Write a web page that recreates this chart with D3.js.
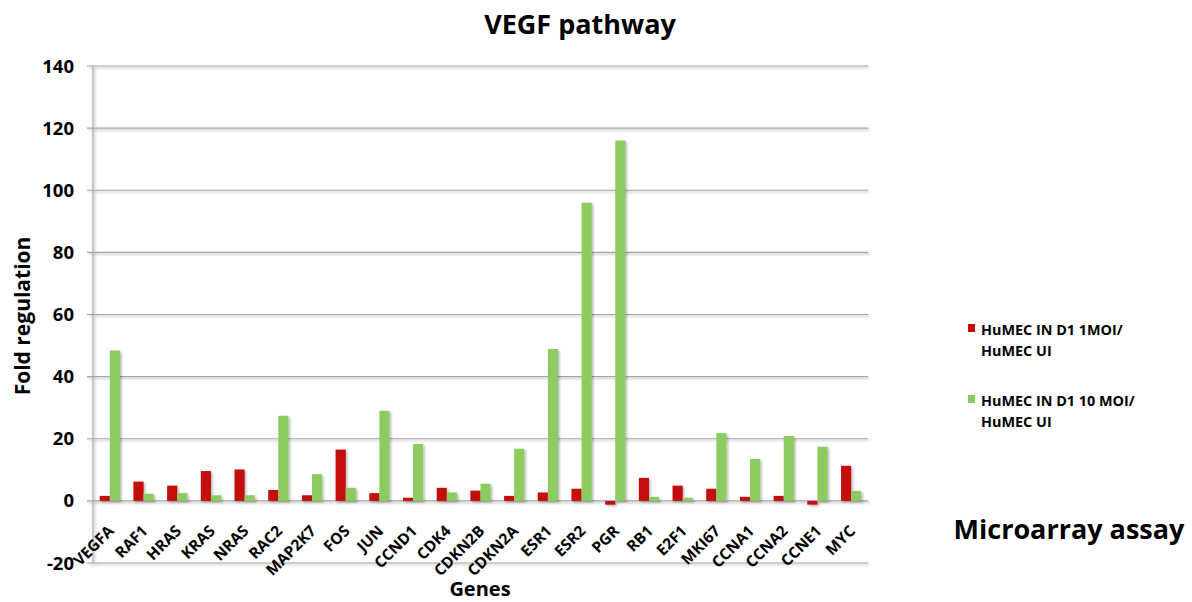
<!DOCTYPE html>
<html><head><meta charset="utf-8">
<script src="https://cdn.jsdelivr.net/npm/d3@7"></script>
<style>body{margin:0;background:#fff}svg{display:block}text{font-family:"Open Sans",Lato,sans-serif;font-weight:bold;fill:#000}</style>
</head><body>
<svg id="c" width="1192" height="602"></svg>
<script>
const genes = ["VEGFA","RAF1","HRAS","KRAS","NRAS","RAC2","MAP2K7","FOS","JUN","CCND1","CDK4","CDKN2B","CDKN2A","ESR1","ESR2","PGR","RB1","E2F1","MKI67","CCNA1","CCNA2","CCNE1","MYC"];
const moi1 = [1.6,6.2,4.9,9.6,10.1,3.5,1.8,16.5,2.5,1.0,4.2,3.3,1.6,2.7,3.9,-1.2,7.4,4.9,3.9,1.3,1.6,-1.2,11.3];
const moi10 = [48.4,2.3,2.5,1.8,1.8,27.4,8.6,4.2,29.0,18.3,2.7,5.5,16.8,48.9,96.0,116.0,1.3,1.0,21.8,13.5,20.9,17.4,3.2];
const seriesNames = ["HuMEC IN D1 1MOI/|HuMEC UI","HuMEC IN D1 10 MOI/|HuMEC UI"];
const colors = ["#c4090c","#8ccb5e"];
const yTicks = [-20,0,20,40,60,80,100,120,140];

const svg = d3.select("#c");
const L=93,R=868,T=66,B=563;
const y = d3.scaleLinear().domain([-20,140]).range([B,T]);
const x = d3.scaleBand().domain(genes).range([L,R]).paddingInner(0.4).paddingOuter(0.2);
const xs = d3.scaleBand().domain([0,1]).range([0,x.bandwidth()]);

const defs = svg.append("defs");
const f = defs.append("filter").attr("id","sh").attr("x","-30%").attr("y","-10%").attr("width","160%").attr("height","130%");
f.append("feDropShadow").attr("dx",1.5).attr("dy",1.5).attr("stdDeviation",1.2).attr("flood-color","#000").attr("flood-opacity",0.3);

// gridlines
const grid = svg.append("g").attr("filter","url(#sh)");
grid.selectAll("line").data(yTicks).join("line")
  .attr("x1",L-6).attr("x2",R).attr("y1",d=>y(d)).attr("y2",d=>y(d))
  .attr("stroke","#a6a6a6").attr("stroke-width",1.2);
grid.append("line").attr("x1",L).attr("x2",L).attr("y1",T).attr("y2",B).attr("stroke","#a6a6a6").attr("stroke-width",1.2);

// y labels
svg.append("g").selectAll("text").data(yTicks).join("text")
  .attr("x",74).attr("y",d=>y(d)+6.5).attr("text-anchor","end").attr("font-size",18.5).text(d=>d);

// bars
const bars = svg.append("g").attr("filter","url(#sh)");
[moi1,moi10].forEach((vals,si)=>{
  bars.append("g").selectAll("rect").data(genes).join("rect")
    .attr("x",(g)=>x(g)+xs(si)).attr("width",xs.bandwidth())
    .attr("y",(g,i)=>y(Math.max(0,vals[i]))).attr("height",(g,i)=>Math.abs(y(vals[i])-y(0)))
    .attr("fill",colors[si]);
});

// x labels
svg.append("g").selectAll("text").data(genes).join("text")
  .attr("transform",g=>`translate(${x(g)+x.bandwidth()/2+5},${532}) rotate(-45)`)
  .attr("text-anchor","end").attr("font-size",15.5).text(g=>g);

// titles
svg.append("text").attr("x",580).attr("y",34).attr("text-anchor","middle").attr("font-size",27).text("VEGF pathway");
svg.append("text").attr("transform","translate(30,316) rotate(-90)").attr("text-anchor","middle").attr("font-size",21).text("Fold regulation");
svg.append("text").attr("x",480).attr("y",596).attr("text-anchor","middle").attr("font-size",20).text("Genes");
svg.append("text").attr("x",1069).attr("y",539).attr("text-anchor","middle").attr("font-size",27).text("Microarray assay");

// legend
const lg = svg.append("g");
const ly = [335,406];
seriesNames.forEach((s,i)=>{
  lg.append("rect").attr("x",968).attr("y",ly[i]-11).attr("width",7).attr("height",8).attr("fill",colors[i]);
  s.split("|").forEach((t,j)=>{
    lg.append("text").attr("x",981).attr("y",ly[i]+j*21).attr("font-size",14.4).text(t);
  });
});
</script>
</body></html>
